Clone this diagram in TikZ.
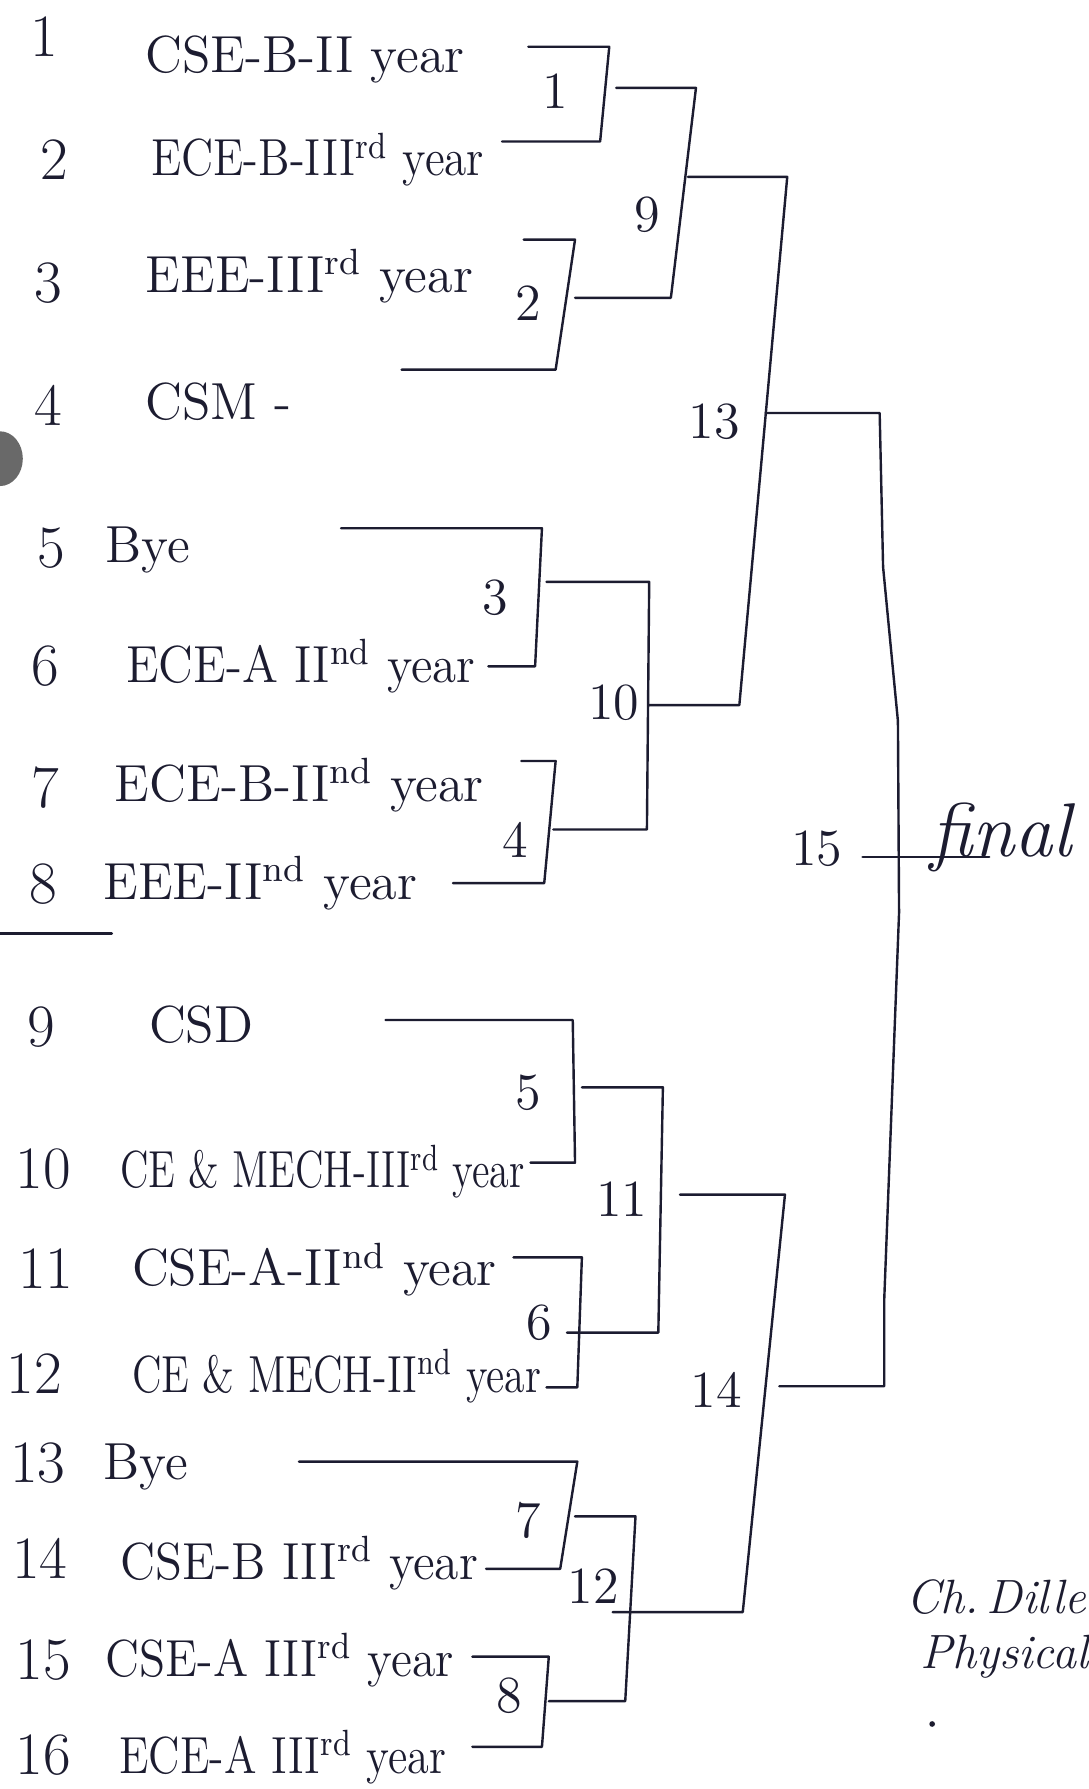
\documentclass[tikz,border=0pt]{standalone}
\begin{document}
\begin{tikzpicture}[x=0.1mm, y=-0.1mm, line cap=round, line join=round]
    \definecolor{myink}{RGB}{28,28,48}
    \definecolor{myblot}{RGB}{105,105,105}
    \tikzset{
        bline/.style={draw=myink, line width=0.6pt},
        numtxt/.style={text=myink, font=\fontsize{15}{17}\selectfont, inner sep=0pt},
        teamtxt/.style={text=myink, font=\fontsize{13}{15}\selectfont, anchor=west, inner sep=0pt},
        matchtxt/.style={text=myink, font=\fontsize{13}{15}\selectfont, inner sep=0pt},
        signtxt/.style={text=myink, font=\itshape\fontsize{12}{14}\selectfont, anchor=west, inner sep=0pt}
    }
    \useasboundingbox[fill=white] (0,0) rectangle (954,1568);

    % row numbers
    \foreach \i/\x/\y in {1/39/32, 2/48/140, 3/42/248, 4/42/355, 5/45/480, 6/40/584,
                          7/40/690, 8/38/775, 9/36/900, 10/38/1025, 11/40/1112,
                          12/30/1204, 13/33/1282, 14/35/1366, 15/38/1455, 16/38/1538}
        \node[numtxt] (n\i) at (\x,\y) {\i};
    \draw[bline] (0,818) -- (98,818);

    % teams
    \foreach \i/\x/\y/\sx/\txt in {
        1/127/52/1/{CSE-B-II year},
        2/132/140/0.87/{ECE-B-III\textsuperscript{rd} year},
        3/127/242/1/{EEE-III\textsuperscript{rd} year},
        4/127/352/1/{CSM -},
        5/92/482/1/{Bye},
        6/110/584/0.94/{ECE-A II\textsuperscript{nd} year},
        7/100/688/1/{ECE-B-II\textsuperscript{nd} year},
        8/90/774/1/{EEE-II\textsuperscript{nd} year},
        9/130/898/1/{CSD},
        10/105/1027/0.77/{CE \& MECH-III\textsuperscript{rd} year},
        11/115/1113/1/{CSE-A-II\textsuperscript{nd} year},
        12/115/1206/0.8/{CE \& MECH-II\textsuperscript{nd} year},
        13/90/1286/1/{Bye},
        14/105/1370/0.95/{CSE-B III\textsuperscript{rd} year},
        15/92/1455/0.92/{CSE-A III\textsuperscript{rd} year},
        16/104/1540/0.85/{ECE-A III\textsuperscript{rd} year}}
        \node[teamtxt] (t\i) at (\x,\y) {\scalebox{\sx}[1]{\txt}};

    % brackets: top start, top y, top corner, bottom corner, bottom y, bottom start
    \foreach \xa/\ya/\xb/\xc/\yb/\xd in {
        463/41/534/526/124/440, 459/210/504/487/324/352,
        299/463/475/469/584/428, 457/667/487/477/774/397,
        338/894/502/504/1019/465, 450/1102/510/506/1216/479,
        262/1281/506/491/1375/426, 414/1452/481/475/1531/414,
        540/77/610/588/261/504, 479/510/569/567/727/485,
        510/953/581/577/1168/497, 504/1329/557/548/1491/481,
        603/155/690/648/618/569, 596/1047/688/651/1413/537}
        \draw[bline] (\xa,\ya) -- (\xb,\ya) -- (\xc,\yb) -- (\xd,\yb);

    % match numbers
    \foreach \i/\x/\y in {1/487/80, 2/463/266, 3/434/524, 4/452/736, 5/463/958,
                          6/473/1159, 7/463/1333, 8/446/1486, 9/567/188, 10/538/616,
                          11/545/1051, 12/520/1390, 13/626/370, 14/628/1218}
        \node[matchtxt] (m\i) at (\x,\y) {\i};

    % final
    \draw[bline] (671,362) -- (771,362) -- (774,497) -- (787,632) -- (788,800)
        -- (775,1139) -- (775,1215) -- (683,1215);
    \node[matchtxt] (m15) at (716,744) {15};
    \draw[bline] (756,751) -- (867,751);
    \node[text=myink, font=\itshape\fontsize{19}{21}\selectfont, anchor=base west, inner sep=0pt] (fin) at (815,751) {final};

    % signature
    \node[signtxt] (sig1) at (794,1400) {Ch.\,Dille};
    \node[signtxt] (sig2) at (806,1452) {Physical};
    \fill[myink] (817,1511) circle [radius=0.25mm];
    \fill[myblot] (0,402) ellipse [x radius=2mm, y radius=2.4mm];
\end{tikzpicture}
\end{document}
